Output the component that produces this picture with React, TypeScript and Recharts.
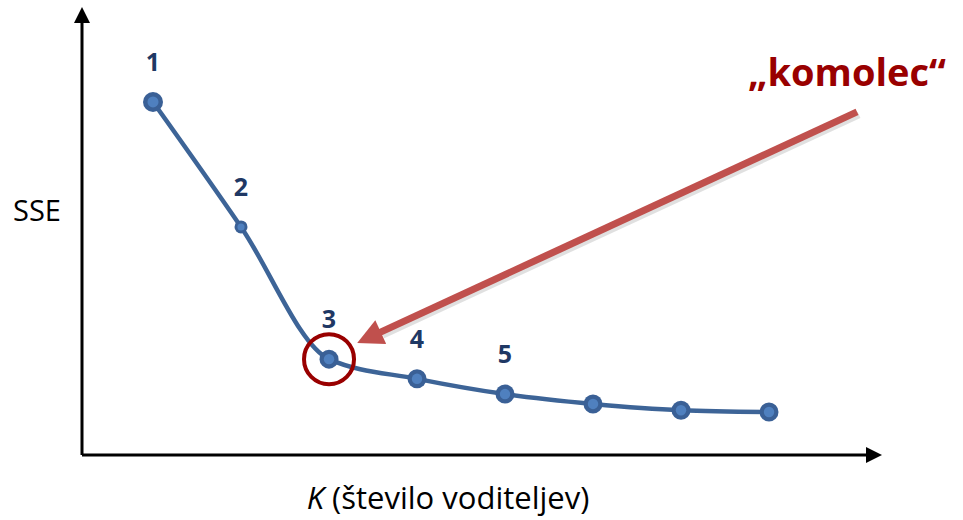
import { LineChart, Line, XAxis, YAxis, ReferenceLine, ReferenceDot, LabelList } from "recharts";

// K values (number of clusters) and SSE
const kValues = [1, 2, 3, 4, 5, 6, 7, 8];
const sseValues = [78.8, 50.9, 21.4, 17.0, 13.6, 11.4, 10.0, 9.6];
const pointLabels = ["1", "2", "3", "4", "5", "", "", ""];

const xDomain: [number, number] = [0.193, 9.284];
const yDomain: [number, number] = [0, 100];

// annotation arrow, in data units
const elbowArrow = { from: [9.0, 76.6], to: [3.32, 25.0] };

const data = kValues.map((k, i) => ({ k, sse: sseValues[i], label: pointLabels[i] }));

const font = "'Open Sans', 'DejaVu Sans', sans-serif";
const lineBlue = "#3d6497";
const dotDark = "#3a6096";
const dotLight = "#4f80bf";
const labelNavy = "#1f3864";
const darkRed = "#990000";
const arrowRed = "#c0504d";

const PointDot = (props: any) => {
  const { cx, cy, index } = props;
  if (cx == null || cy == null) return null;
  const r = index === 1 ? 6.5 : index === 0 ? 10 : 9.5;
  return (
    <g key={`dot-${index}`}>
      <circle cx={cx} cy={cy} r={r} fill={dotDark} />
      <circle cx={cx} cy={cy} r={r * 0.55} fill={dotLight} />
    </g>
  );
};

const PointLabel = (props: any) => {
  const { x, y, value } = props;
  if (!value) return null;
  return (
    <text x={x} y={y - 41} textAnchor="middle" dominantBaseline="central"
      fontFamily={font} fontWeight={700} fontSize={25} fill={labelNavy}>
      {value}
    </text>
  );
};

// axis line with a filled arrow head at the end
const AxisArrow = (props: any) => {
  const { x1, y1, x2, y2 } = props;
  const dx = x2 - x1, dy = y2 - y1;
  const len = Math.hypot(dx, dy) || 1;
  const ux = dx / len, uy = dy / len;
  const hl = 16, hw = 8;
  const bx = x2 - ux * hl, by = y2 - uy * hl;
  return (
    <g>
      <line x1={x1} y1={y1} x2={bx} y2={by} stroke="#000" strokeWidth={3} />
      <polygon
        points={`${x2},${y2} ${bx - uy * hw},${by + ux * hw} ${bx + uy * hw},${by - ux * hw}`}
        fill="#000"
      />
    </g>
  );
};

const RedArrow = (props: any) => {
  const { x1, y1, x2, y2 } = props;
  const dx = x2 - x1, dy = y2 - y1;
  const len = Math.hypot(dx, dy) || 1;
  const ux = dx / len, uy = dy / len;
  const hl = 26, hw = 13;
  const bx = x2 - ux * hl, by = y2 - uy * hl;
  return (
    <g>
      <line x1={x1 + 2} y1={y1 + 3} x2={bx + 2} y2={by + 3} stroke="rgba(0,0,0,0.12)" strokeWidth={7} />
      <line x1={x1} y1={y1} x2={bx + ux * 2} y2={by + uy * 2} stroke={arrowRed} strokeWidth={7} />
      <polygon
        points={`${x2},${y2} ${bx - uy * hw},${by + ux * hw} ${bx + uy * hw},${by - ux * hw}`}
        fill={arrowRed}
      />
    </g>
  );
};

export default function App() {
  return (
    <div style={{ position: "absolute", left: 0, top: 0, width: 963, height: 520, background: "#fff" }}>
      <LineChart width={963} height={520} data={data} margin={{ top: 7, right: 81, bottom: 65, left: 82 }}>
        <XAxis type="number" dataKey="k" domain={xDomain} hide />
        <YAxis type="number" domain={yDomain} hide />
        <ReferenceLine segment={[{ x: xDomain[0], y: 0 }, { x: xDomain[1], y: 0 }]} shape={AxisArrow} ifOverflow="visible" />
        <ReferenceLine segment={[{ x: xDomain[0], y: 0 }, { x: xDomain[0], y: yDomain[1] }]} shape={AxisArrow} ifOverflow="visible" />
        <ReferenceLine
          segment={[{ x: elbowArrow.from[0], y: elbowArrow.from[1] }, { x: elbowArrow.to[0], y: elbowArrow.to[1] }]}
          shape={RedArrow}
          ifOverflow="visible"
        />
        <Line
          type="monotone"
          dataKey="sse"
          stroke={lineBlue}
          strokeWidth={4.5}
          dot={PointDot}
          activeDot={false}
          isAnimationActive={false}
        >
          <LabelList dataKey="label" content={PointLabel} />
        </Line>
        <ReferenceDot x={kValues[2]} y={sseValues[2]} r={25} fill="none" stroke={darkRed} strokeWidth={4} ifOverflow="visible" />
      </LineChart>
      <div style={{ position: "absolute", left: 13, top: 190, fontFamily: font, fontSize: 29, color: "#000", lineHeight: "40px" }}>
        SSE
      </div>
      <div style={{ position: "absolute", left: 0, width: 896, top: 476, textAlign: "center", fontFamily: font, fontSize: 31, color: "#000", lineHeight: "42px" }}>
        <i>K</i> (število voditeljev)
      </div>
      <div style={{ position: "absolute", left: 748, top: 44, fontFamily: font, fontSize: 38, fontWeight: 700, color: darkRed, lineHeight: "54px" }}>
        „komolec“
      </div>
    </div>
  );
}
